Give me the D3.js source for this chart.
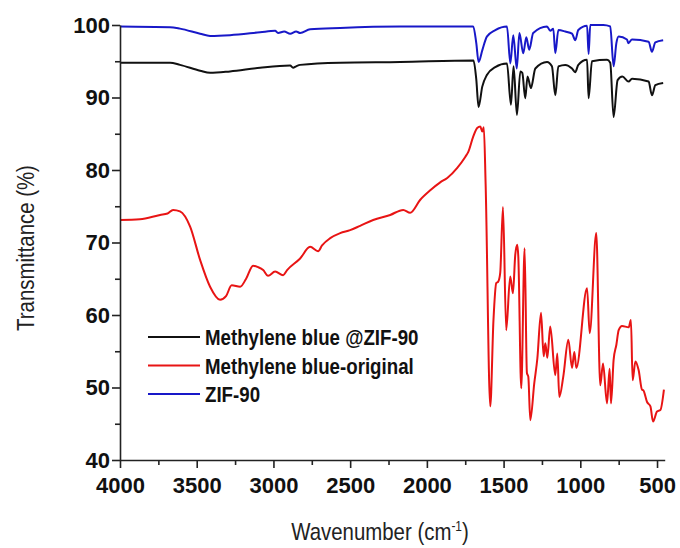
<!DOCTYPE html>
<html>
<head>
<meta charset="utf-8">
<script src="https://cdn.jsdelivr.net/npm/d3@7"></script>
<style>
  body { margin: 0; background: #fff; }
  svg { display: block; }
  .axis path, .axis line { stroke: #222; stroke-width: 1.6px; }
  .axis text { font-family: 'Liberation Sans', Arial, sans-serif; font-weight: bold; font-size: 22px; fill: #111; }
  .title { font-family: 'Liberation Sans', Arial, sans-serif; font-size: 24px; fill: #222; }
  .legend text { font-family: 'Liberation Sans', Arial, sans-serif; font-weight: bold; font-size: 22px; fill: #111; }
</style>
</head>
<body>
<svg id="chart" width="680" height="548"></svg>
<script>
// ZIF-90
const zifWn = [4000, 3674, 3609, 3478, 3413, 3283, 3087, 2989, 2970, 2930, 2891, 2852, 2826, 2761, 2565, 2174,
  1698, 1678, 1663, 1639, 1609, 1554, 1478, 1456, 1437, 1414, 1397, 1372, 1352, 1333, 1307, 1217, 1196, 1176,
  1163, 1143, 1098, 1054, 1033, 1013, 956, 946, 935, 850, 805, 783, 765, 750, 696, 687, 663, 555, 533, 511, 460];
const zifT = [99.8, 99.7, 99.5, 98.8, 98.5, 98.6, 99.0, 99.2, 98.9, 99.1, 98.8, 99.1, 98.9, 99.4, 99.6, 99.8,
  99.8, 97.5, 94.9, 96.5, 98.4, 99.3, 99.8, 94.7, 98.6, 94.0, 98.9, 96.1, 98.3, 96.6, 98.9, 99.8, 99.2, 99.5,
  96.1, 99.3, 99.1, 98.8, 97.9, 99.3, 99.9, 96.0, 100, 100, 99.8, 94.3, 97.5, 98.4, 98.0, 97.5, 98.0, 97.7, 96.3, 97.6, 97.9];

// Methylene blue @ZIF-90
const mbZifWn = [4000, 3674, 3609, 3478, 3413, 3283, 3087, 2891, 2872, 2852, 2826, 2565, 2174,
  1696, 1678, 1663, 1639, 1609, 1554, 1478, 1452, 1435, 1413, 1391, 1378, 1359, 1344, 1322, 1293, 1217, 1185,
  1163, 1143, 1098, 1054, 1033, 1013, 956, 946, 924, 826, 805, 783, 757, 726, 685, 663, 555, 533, 511, 460];
const mbZifT = [94.8, 94.8, 94.5, 93.7, 93.4, 93.6, 94.1, 94.4, 94.1, 94.3, 94.5, 94.8, 94.9,
  95.1, 92.5, 88.7, 91.5, 93.1, 94.2, 94.7, 89.0, 94.3, 87.6, 93.6, 93.4, 89.9, 92.9, 91.3, 94.0, 94.9, 94.3,
  90.3, 94.3, 94.5, 94.0, 93.5, 94.5, 95.2, 89.9, 95.0, 95.2, 94.8, 87.3, 92.4, 92.9, 92.2, 92.6, 92.2, 90.3, 91.7, 92.0];

// Methylene blue-original
const mbOrigWn = [4000, 3870, 3739, 3690, 3654, 3609, 3543, 3478, 3413, 3348, 3309, 3272, 3217, 3178, 3133, 3100,
  3067, 3035, 2989, 2937, 2911, 2826, 2761, 2709, 2683, 2630, 2565, 2500, 2435, 2350, 2239, 2154, 2109, 2043,
  1978, 1913, 1867, 1802, 1750, 1730, 1698, 1672, 1652, 1639, 1629, 1617, 1587, 1566, 1548, 1535, 1522, 1504,
  1483, 1457, 1439, 1424, 1411, 1404, 1385, 1363, 1348, 1339, 1326, 1300, 1280, 1256, 1239, 1228, 1215, 1196,
  1163, 1150, 1137, 1111, 1078, 1054, 1039, 1026, 956, 939, 896, 870, 852, 826, 809, 800, 783, 765, 750, 728,
  685, 670, 659, 641, 620, 598, 589, 565, 543, 526, 500, 478, 455];
const mbOrigT = [73.1, 73.2, 73.8, 74.0, 74.5, 74.3, 72.2, 67.6, 63.9, 62.1, 62.6, 64.1, 63.9, 65.0, 66.8, 66.6,
  66.2, 65.4, 66.0, 65.5, 66.2, 67.8, 69.4, 68.8, 69.6, 70.6, 71.3, 71.7, 72.3, 73.1, 73.8, 74.5, 74.1, 75.9,
  77.2, 78.3, 78.9, 80.3, 81.8, 82.5, 84.6, 85.8, 86.0, 85.3, 85.9, 78.0, 47.4, 59.3, 64.4, 64.6, 65.8, 74.9,
  57.9, 65.3, 63.0, 68.3, 69.7, 68.0, 49.9, 69.2, 52.0, 51.5, 45.5, 50.6, 54.0, 60.3, 54.3, 56.1, 54.1, 58.4,
  51.7, 54.7, 48.7, 51.5, 56.6, 52.7, 54.9, 52.7, 63.7, 57.5, 71.3, 50.3, 53.3, 47.8, 52.6, 47.8, 53.8, 55.9, 57.9, 58.5,
  58.3, 59.3, 51.0, 53.6, 52.4, 49.7, 49.6, 48.0, 47.4, 45.3, 46.7, 46.9, 49.7];

const seriesNames = ['Methylene blue @ZIF-90', 'Methylene blue-original', 'ZIF-90'];
const seriesColors = ['#111111', '#e81414', '#1818c8'];

const xMajor = [4000, 3500, 3000, 2500, 2000, 1500, 1000, 500];
const xMinor = [3750, 3250, 2750, 2250, 1750, 1250, 750];
const yMajor = [40, 50, 60, 70, 80, 90, 100];
const yMinor = [45, 55, 65, 75, 85, 95];

const svg = d3.select('#chart');
const plotLeft = 120, plotRight = 664.7, plotTop = 25, plotBottom = 460;
// the original uses a condensed face; squeeze the sans a bit
const narrow = 0.85;

const x = d3.scaleLinear().domain([4000, 450]).range([plotLeft, plotRight]);
const y = d3.scaleLinear().domain([40, 100]).range([plotBottom, plotTop]);

const series = [
  { name: seriesNames[0], color: seriesColors[0], wn: mbZifWn, t: mbZifT },
  { name: seriesNames[1], color: seriesColors[1], wn: mbOrigWn, t: mbOrigT },
  { name: seriesNames[2], color: seriesColors[2], wn: zifWn, t: zifT }
];

const line = d3.line()
  .x(d => x(d[0]))
  .y(d => y(d[1]))
  .curve(d3.curveMonotoneX);

svg.append('g')
  .selectAll('path')
  .data(series)
  .join('path')
  .attr('fill', 'none')
  .attr('stroke', d => d.color)
  .attr('stroke-width', 2)
  .attr('stroke-linejoin', 'round')
  .attr('d', d => line(d.wn.map((w, i) => [w, d.t[i]])));

// axes
svg.append('g')
  .attr('class', 'axis')
  .attr('transform', `translate(0,${plotBottom})`)
  .call(d3.axisBottom(x).tickValues(xMajor).tickFormat(d3.format('d'))
    .tickSize(8).tickSizeOuter(0).tickPadding(9));

svg.append('g')
  .attr('class', 'axis')
  .attr('transform', `translate(0,${plotBottom})`)
  .call(d3.axisBottom(x).tickValues(xMinor).tickSize(5).tickSizeOuter(0).tickFormat(''))
  .select('.domain').remove();

svg.append('g')
  .attr('class', 'axis')
  .attr('transform', `translate(${plotLeft},0)`)
  .call(d3.axisLeft(y).tickValues(yMajor).tickFormat(d3.format('d'))
    .tickSize(8).tickSizeOuter(0).tickPadding(2));

svg.append('g')
  .attr('class', 'axis')
  .attr('transform', `translate(${plotLeft},0)`)
  .call(d3.axisLeft(y).tickValues(yMinor).tickSize(5).tickSizeOuter(0).tickFormat(''))
  .select('.domain').remove();

// titles
const xt = svg.append('text')
  .attr('class', 'title')
  .attr('transform', `translate(380,540) scale(${narrow},1)`)
  .attr('text-anchor', 'middle');
xt.append('tspan').text('Wavenumber (cm');
xt.append('tspan').attr('dy', -9).attr('font-size', 14).text('-1');
xt.append('tspan').attr('dy', 9).text(')');

svg.append('text')
  .attr('class', 'title')
  .attr('transform', `translate(34,248) rotate(-90) scale(${narrow},1)`)
  .attr('text-anchor', 'middle')
  .text('Transmittance (%)');

// legend
const legend = svg.append('g')
  .attr('class', 'legend')
  .selectAll('g')
  .data(series)
  .join('g')
  .attr('transform', (d, i) => `translate(148,${337 + i * 28.5})`);

legend.append('line')
  .attr('x1', 0).attr('x2', 52)
  .attr('stroke', d => d.color)
  .attr('stroke-width', 2);

legend.append('text')
  .attr('transform', `translate(57,8) scale(${narrow},1)`)
  .text(d => d.name);
</script>
</body>
</html>
